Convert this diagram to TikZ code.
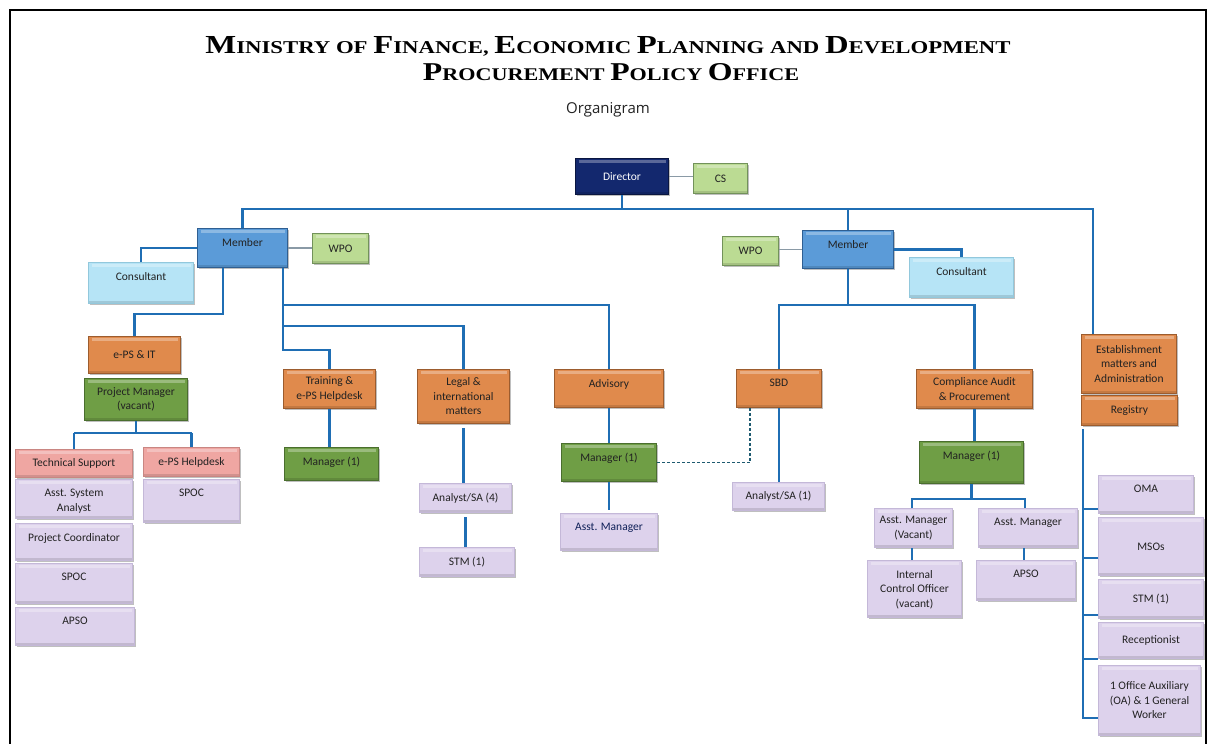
\documentclass[tikz,border=0pt]{standalone}
\usepackage{fontspec}
\setmainfont{Carlito}
\newfontfamily\titlefont{Liberation Serif}
\newfontfamily\subfont{Open Sans}
\usetikzlibrary{shadows}

\definecolor{navyc}{HTML}{13286E}
\definecolor{navyd}{HTML}{0A1640}
\definecolor{lgreen}{HTML}{BBDB93}
\definecolor{lgreend}{HTML}{72925A}
\definecolor{memblue}{HTML}{5B9BD8}
\definecolor{memblued}{HTML}{2F5F92}
\definecolor{consblue}{HTML}{B6E4F6}
\definecolor{consblued}{HTML}{92C8DC}
\definecolor{orng}{HTML}{E08A4C}
\definecolor{orngd}{HTML}{9C5C2E}
\definecolor{dgreen}{HTML}{6F9E45}
\definecolor{dgreend}{HTML}{4A6E2E}
\definecolor{pinkc}{HTML}{EFA6A2}
\definecolor{pinkd}{HTML}{C98682}
\definecolor{lav}{HTML}{DDD2EC}
\definecolor{lavd}{HTML}{C4B8D8}
\definecolor{linkblue}{HTML}{1F6EB4}
\definecolor{thingray}{HTML}{8A9AA6}
\definecolor{dashc}{HTML}{1E5A70}
\definecolor{txt}{HTML}{222222}

% heading in small capitals built from two sizes
\newcommand\bigL[1]{{\fontsize{23}{23}\selectfont #1}}
\newcommand\headline[3]{\resizebox{#1}{#2}{\titlefont\bfseries\fontsize{16}{16}\selectfont #3}}

\tikzset{
  x=1pt, y=-1pt,
  base/.style={draw=#1, line width=1pt, inner sep=2pt, align=center,
    font=\fontsize{11.5}{14.5}\selectfont, text=txt, anchor=north west,
    drop shadow={shadow xshift=1pt, shadow yshift=-1pt, opacity=.25, fill=black},
    path picture={
      \fill[white, opacity=.3] ([xshift=3pt,yshift=-1pt]path picture bounding box.north west)
        rectangle ([xshift=-3pt,yshift=-4pt]path picture bounding box.north east);
      \fill[black, opacity=.12] ([yshift=3pt]path picture bounding box.south west)
        rectangle (path picture bounding box.south east);
    }},
  navybox/.style={base=navyd, fill=navyc, text=white},
  lgbox/.style={base=lgreend, fill=lgreen},
  membox/.style={base=memblued, fill=memblue},
  consbox/.style={base=consblued, fill=consblue},
  orbox/.style={base=orngd, fill=orng},
  grbox/.style={base=dgreend, fill=dgreen},
  pkbox/.style={base=pinkd, fill=pinkc},
  lvbox/.style={base=lavd, fill=lav},
  conn/.style={draw=linkblue, line width=2.8pt},
  thinlink/.style={draw=thingray, line width=1.1pt},
  dashlink/.style={draw=dashc, line width=1.3pt, dash pattern=on 3pt off 2pt},
  toptext/.style={text=txt, font=\fontsize{11.5}{14.5}\selectfont, align=center, anchor=north, inner sep=0pt}
}

% centred caption: style, name, x1, y1, x2, y2, text
\newcommand\cbox[7]{%
  \node[#1, minimum width=#5pt-#3pt, minimum height=#6pt-#4pt] (#2) at (#3,#4) {#7};}
% caption near the top edge: style, name, x1, y1, x2, y2, text
\newcommand\tbox[7]{%
  \node[#1, minimum width=#5pt-#3pt, minimum height=#6pt-#4pt,
    label={[toptext, yshift=-10pt]north:#7}] (#2) at (#3,#4) {};}

\begin{document}
\begin{tikzpicture}
\useasboundingbox (0,0) rectangle (1216,744);
\fill[white] (0,0) rectangle (1216,744);

% page frame
\draw[black, line width=1.6pt] (10,744) -- (10,10) -- (1206,10) -- (1206,744);

% headings
\node[anchor=base, inner sep=0pt] (t1) at (608,53)
  {\headline{805pt}{17pt}{\bigL{M}INISTRY OF \bigL{F}INANCE, \bigL{E}CONOMIC \bigL{P}LANNING AND \bigL{D}EVELOPMENT}};
\node[anchor=base, inner sep=0pt] (t2) at (611,80)
  {\headline{376pt}{17pt}{\bigL{P}ROCUREMENT \bigL{P}OLICY \bigL{O}FFICE}};
\node[font=\subfont\fontsize{15}{15}\selectfont, text=txt] (t3) at (608,110) {Organigram};

% top level
\cbox{navybox}{dir}{575}{158}{668}{194}{Director}
\cbox{lgbox}{cs}{693}{163}{747}{193}{CS}

% left member branch
\tbox{membox}{lmem}{197}{228}{287}{267}{Member}
\cbox{lgbox}{lwpo}{312}{233}{368}{263}{WPO}
\tbox{consbox}{lcons}{88}{262}{193}{303}{Consultant}
\cbox{orbox}{eps}{88}{336}{180}{373}{e-PS \& IT}
\cbox{grbox}{pm}{84}{378}{187}{420}{Project Manager\\(vacant)}
\cbox{pkbox}{ts}{15}{449}{132}{477}{Technical Support}
\tbox{lvbox}{asa}{15}{479}{132}{518}{Asst. System\\Analyst}
\tbox{lvbox}{pc}{15}{523}{132}{560}{Project Coordinator}
\tbox{lvbox}{spoca}{15}{563}{132}{603}{SPOC}
\tbox{lvbox}{apsoa}{15}{607}{134}{645}{APSO}
\cbox{pkbox}{hd}{143}{447}{239}{476}{e-PS Helpdesk}
\tbox{lvbox}{spocb}{143}{479}{239}{522}{SPOC}
\cbox{orbox}{train}{283}{369}{375}{408}{Training \&\\e-PS Helpdesk}
\tbox{grbox}{tmgr}{284}{447}{378}{480}{Manager (1)}
\cbox{orbox}{legal}{417}{369}{509}{423}{Legal \&\\international\\matters}
\cbox{lvbox}{ana}{419}{483}{511}{512}{Analyst/SA (4)}
\cbox{lvbox}{stma}{419}{547}{514}{576}{STM (1)}
\tbox{orbox}{adv}{554}{369}{663}{407}{Advisory}
\tbox{grbox}{amgr}{561}{443}{656}{481}{Manager (1)}
\tbox{lvbox}{aam}{560}{513}{657}{550}{\textcolor{navyc!80!black}{Asst. Manager}}

% right member branch
\cbox{lgbox}{rwpo}{722}{236}{778}{265}{WPO}
\tbox{membox}{rmem}{802}{230}{893}{268}{Member}
\tbox{consbox}{rcons}{909}{257}{1013}{297}{Consultant}
\tbox{orbox}{sbd}{736}{369}{821}{407}{SBD}
\cbox{lvbox}{anb}{732}{482}{824}{510}{Analyst/SA (1)}
\cbox{orbox}{cap}{916}{369}{1032}{408}{Compliance Audit\\\& Procurement}
\tbox{grbox}{cmgr}{919}{441}{1023}{483}{Manager (1)}
\cbox{lvbox}{cama}{874}{508}{952}{547}{Asst. Manager\\(Vacant)}
\tbox{lvbox}{ico}{867}{560}{961}{617}{Internal\\Control Officer\\(vacant)}
\tbox{lvbox}{camb}{978}{508}{1077}{547}{Asst. Manager}
\tbox{lvbox}{apsob}{976}{560}{1075}{600}{APSO}

% establishment branch
\cbox{orbox}{est}{1081}{334}{1176}{393}{Establishment\\matters and\\Administration}
\cbox{orbox}{reg}{1081}{395}{1177}{425}{Registry}
\tbox{lvbox}{oma}{1098}{475}{1193}{513}{OMA}
\cbox{lvbox}{msos}{1098}{517}{1203}{575}{MSOs}
\cbox{lvbox}{stmb}{1098}{579}{1203}{618}{STM (1)}
\cbox{lvbox}{rec}{1098}{622}{1203}{658}{Receptionist}
\cbox{lvbox}{oa}{1098}{665}{1200}{735}{1 Office Auxiliary\\(OA) \& 1 General\\Worker}

% ---- connectors ----
\coordinate (bus) at (0,209);
\coordinate (estin) at ([xshift=12pt]est.north west);
\draw[conn] (dir.south) -- (dir.south |- bus);
\draw[conn] (lmem.north) -- (lmem.north |- bus) -- (bus -| estin) -- (estin);
\draw[conn] (rmem.north) -- (rmem.north |- bus);
\draw[thinlink] (dir.east) -- (dir.east -| cs.west);

% left member
\draw[thinlink] (lmem.east) -- (lmem.east -| lwpo.west);
\draw[conn] (lmem.west) -| (lcons.north);
\draw[conn] ([xshift=26pt]lmem.south west) -- ++(0,46) -| (eps.north);
\draw[conn] ([xshift=-5pt]lmem.south east) -- ++(0,82) -| (train.north);
\draw[conn] ([xshift=-5pt]lmem.south east) ++(0,37) -| (adv.north);
\draw[conn] ([xshift=-5pt]lmem.south east) ++(0,58) -| (legal.north);
\draw[conn] (pm.south) -- ++(0,12) coordinate (pmj);
\draw[conn] (pmj -| ts.north) -- (pmj -| hd.north);
\draw[conn] (pmj -| ts.north) -- (ts.north);
\draw[conn] (pmj -| hd.north) -- (hd.north);
\draw[conn] (tmgr.north -| train.south) -- (train.south);
\draw[conn] ([yshift=-4pt]legal.south) -- (ana.north -| legal.south);
\draw[conn] ([yshift=-4pt]ana.south) -- (stma.north -| ana.south);
\draw[conn] (adv.south) -- (amgr.north -| adv.south);
\draw[conn] (amgr.south) -- ([yshift=3pt]aam.north -| amgr.south);

% right member
\draw[thinlink] (rmem.west -| rwpo.east) -- (rmem.west);
\draw[conn] (rmem.east) -| (rcons.north);
\draw[conn] (rmem.south) -- ++(0,36) coordinate (rmj);
\draw[conn] (sbd.north) |- (rmj) -| (cap.north);
\draw[conn] (sbd.south) -- (anb.north -| sbd.south);
\coordinate (sbdd) at ([xshift=14pt]sbd.south west);
\draw[dashlink] (amgr.east) -| (sbdd);
\draw[conn] (cap.south) -- (cmgr.north -| cap.south);
\draw[conn] (cmgr.south) -- ++(0,15) coordinate (cmj);
\coordinate (camat) at ([xshift=38pt]cama.north west);
\coordinate (cambt) at ([xshift=-53pt]camb.north east);
\draw[conn] (camat) |- (cmj) -| (cambt);
\draw[conn] ([xshift=38pt]cama.south west) -- ([xshift=45pt]ico.north west);
\draw[conn] ([xshift=46pt]camb.south west) -- ([xshift=48pt]apsob.north west);

% establishment spine
\draw[conn] ([xshift=2pt,yshift=-3pt]reg.south west) |- ([yshift=18pt]oa.south west);
\draw[conn] ([yshift=5pt]oma.south west) -- ++(-15,0);
\draw[conn] ([yshift=18pt]msos.south west) -- ++(-15,0);
\draw[conn] ([yshift=4pt]stmb.south west) -- ++(-15,0);
\draw[conn] (rec.south west) -- ++(-15,0);
\end{tikzpicture}
\end{document}
